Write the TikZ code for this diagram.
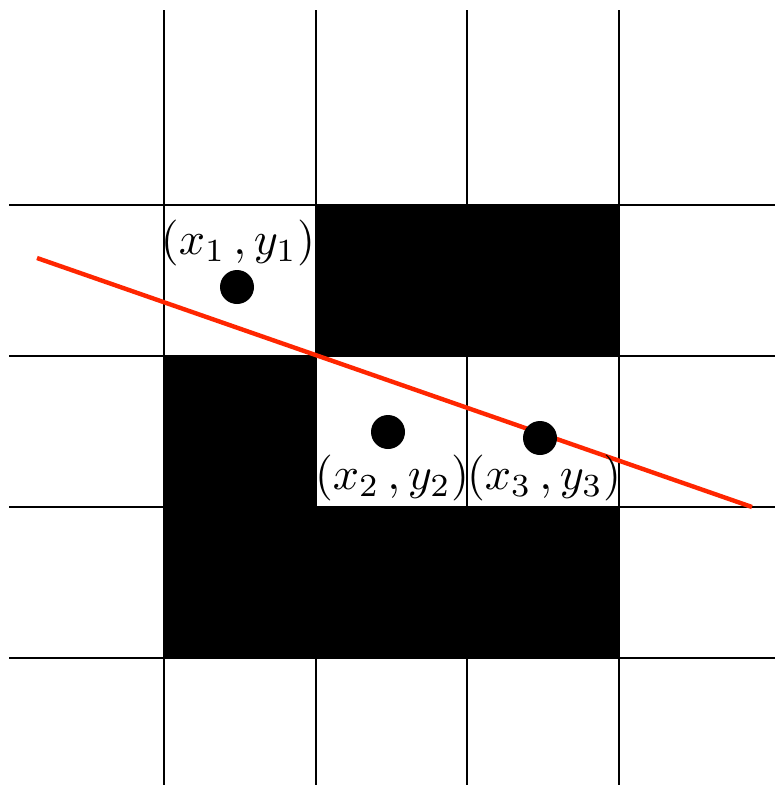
\documentclass[tikz,border=0pt]{standalone}
\definecolor{redline}{RGB}{255,38,0}
\newcommand{\bigmath}[1]{\scalebox{4.6}{$#1$}}
\begin{document}
\begin{tikzpicture}[x=1pt,y=-1pt,
  grid/.style={line width=1.6pt,black},
  block/.style={fill=black,draw=none},
  dot/.style={circle,fill=black,minimum size=34pt,inner sep=0pt},
  lbl/.style={inner sep=0pt}]
\useasboundingbox (0,0) rectangle (775,785);
\fill[white] (0,0) rectangle (775,785);
% grid
\foreach \x in {164,316,467,619} \draw[grid] (\x,10) -- (\x,785);
\foreach \y in {205,356,507,658} \draw[grid] (9,\y) -- (775,\y);
% blocks
\fill[block] (316,205) rectangle (619,356);
\fill[block] (164,356) -- (316,356) -- (316,507) -- (619,507) -- (619,658) -- (164,658) -- cycle;
% red line
\coordinate (la) at (37,258);
\coordinate (lb) at (752,507);
\draw[redline,line width=4.4pt] (la) -- (lb);
% dots
\node[dot] (p1) at (237,287) {};
\node[dot] (p2) at (388,432) {};
\node[dot] (p3) at (540,438) {};
% labels
\node[lbl] (l1) at (238,243) {\bigmath{(x_1\,, y_1)}};
\node[lbl] (l2) at (392,478) {\bigmath{(x_2\,, y_2)}};
\node[lbl] (l3) at (544,478) {\bigmath{(x_3\,, y_3)}};
\end{tikzpicture}
\end{document}
